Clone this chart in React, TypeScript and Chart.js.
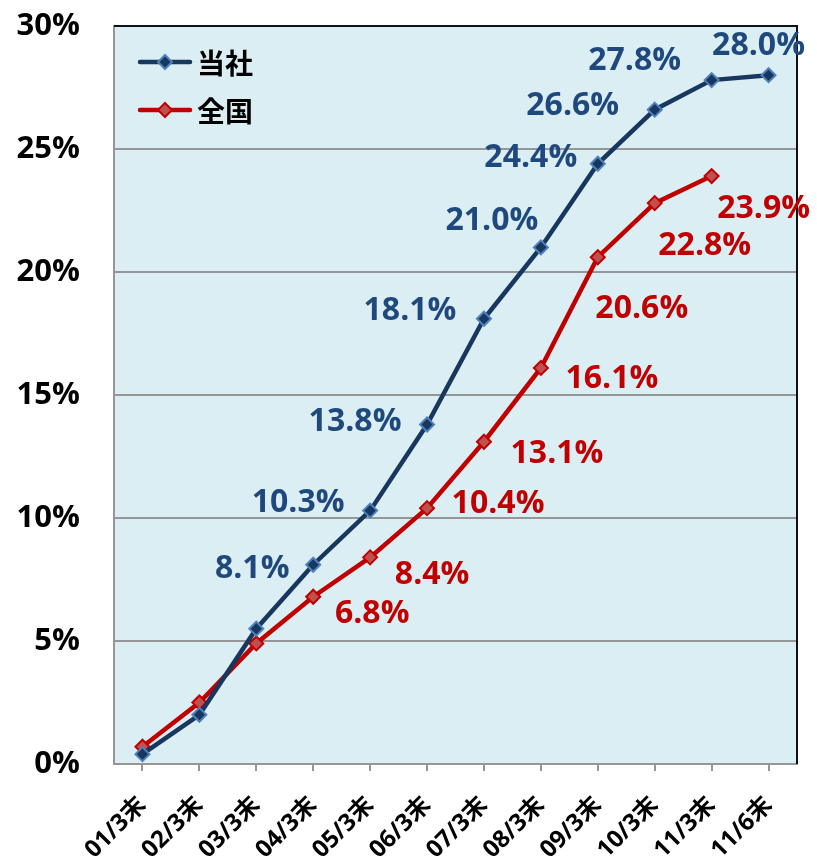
import { useEffect, useRef } from 'react';
import { Chart, registerables } from 'chart.js';

Chart.register(...registerables);

const categories = ['01/3末', '02/3末', '03/3末', '04/3末', '05/3末', '06/3末', '07/3末', '08/3末', '09/3末', '10/3末', '11/3末', '11/6末'];
const companyValues = [0.4, 2.0, 5.5, 8.1, 10.3, 13.8, 18.1, 21.0, 24.4, 26.6, 27.8, 28.0];
const nationalValues: (number | null)[] = [0.7, 2.5, 4.9, 6.8, 8.4, 10.4, 13.1, 16.1, 20.6, 22.8, 23.9, null];
const seriesNames = ['当社', '全国'];
const yTickValues = [0, 5, 10, 15, 20, 25, 30];
const firstLabelIndex = 3;

// label offsets (pixels, text centre relative to point)
const companyLabelOffsets = [[0, 0], [0, 0], [0, 0], [-61, 3], [-72, -9], [-72, -4], [-74, -9], [-49, -28], [-67, -7], [-82, -5], [-77, -20], [-10, -30]];
const nationalLabelOffsets = [[0, 0], [0, 0], [0, 0], [59, 16], [62, 17], [71, -5], [73, 11], [71, 10], [44, 51], [50, 42], [52, 32], [0, 0]];

const COMPANY_LINE = '#17375E';
const COMPANY_MARK_BORDER = '#4F81BD';
const COMPANY_TEXT = '#1F497D';
const NATIONAL_LINE = '#C00000';
const NATIONAL_MARK_FILL = '#C0504D';
const NATIONAL_TEXT = '#C00000';
const PLOT_BG = '#DBEEF4';
const GRID = '#969696';
const NUM_FONT = '"Open Sans", "Liberation Sans", sans-serif';
const CJK_FONT = '"Noto Sans CJK JP", "Noto Sans", sans-serif';

const fmt = (v: number) => v.toFixed(1) + '%';

const plotPlugin = {
  id: 'plotDecor',
  beforeDraw(chart: any) {
    const { ctx, chartArea: a } = chart;
    ctx.save();
    ctx.fillStyle = '#ffffff';
    ctx.fillRect(0, 0, chart.width, chart.height);
    ctx.fillStyle = PLOT_BG;
    ctx.fillRect(a.left, a.top, a.right - a.left, a.bottom - a.top);
    ctx.restore();
  },
  beforeDatasetsDraw(chart: any) {
    const { ctx, chartArea: a } = chart;
    ctx.save();
    ctx.strokeStyle = '#111111';
    ctx.lineWidth = 2;
    ctx.beginPath();
    ctx.moveTo(a.left, a.top);
    ctx.lineTo(a.right, a.top);
    ctx.lineTo(a.right, a.bottom);
    ctx.stroke();
    ctx.restore();
  },
  afterDatasetsDraw(chart: any) {
    const { ctx, chartArea: a } = chart;
    ctx.save();
    // data labels
    ctx.font = `bold 32px ${NUM_FONT}`;
    ctx.textAlign = 'center';
    ctx.textBaseline = 'middle';
    const sets = [
      { idx: 0, values: companyValues, offs: companyLabelOffsets, color: COMPANY_TEXT },
      { idx: 1, values: nationalValues, offs: nationalLabelOffsets, color: NATIONAL_TEXT },
    ];
    sets.forEach((s) => {
      const meta = chart.getDatasetMeta(s.idx);
      ctx.fillStyle = s.color;
      s.values.forEach((v, i) => {
        if (v === null || i < firstLabelIndex) return;
        const p = meta.data[i];
        ctx.fillText(fmt(v as number), p.x + s.offs[i][0], p.y + s.offs[i][1] + 1);
      });
    });
    // legend
    const legendItems = [
      { name: seriesNames[0], line: COMPANY_LINE, fill: COMPANY_LINE, border: COMPANY_MARK_BORDER, y: a.top + 36 },
      { name: seriesNames[1], line: NATIONAL_LINE, fill: NATIONAL_MARK_FILL, border: NATIONAL_LINE, y: a.top + 84 },
    ];
    legendItems.forEach((it) => {
      const x0 = a.left + 26;
      ctx.strokeStyle = it.line;
      ctx.lineWidth = 4.5;
      ctx.lineCap = 'round';
      ctx.beginPath();
      ctx.moveTo(x0, it.y);
      ctx.lineTo(x0 + 50, it.y);
      ctx.stroke();
      const cx = x0 + 25;
      const r = 7;
      ctx.beginPath();
      ctx.moveTo(cx, it.y - r);
      ctx.lineTo(cx + r, it.y);
      ctx.lineTo(cx, it.y + r);
      ctx.lineTo(cx - r, it.y);
      ctx.closePath();
      ctx.fillStyle = it.fill;
      ctx.fill();
      ctx.lineWidth = 2;
      ctx.strokeStyle = it.border;
      ctx.stroke();
      ctx.fillStyle = '#000000';
      ctx.font = `bold 28px ${CJK_FONT}`;
      ctx.textAlign = 'left';
      ctx.textBaseline = 'middle';
      ctx.fillText(it.name, x0 + 57, it.y + 1);
    });
    ctx.restore();
  },
};

export default function App() {
  const ref = useRef<HTMLCanvasElement | null>(null);
  useEffect(() => {
    document.body.style.margin = '0';
    if (!ref.current) return;
    const chart = new Chart(ref.current, {
      type: 'line',
      data: {
        labels: categories,
        datasets: [
          {
            label: seriesNames[0],
            data: companyValues,
            borderColor: COMPANY_LINE,
            borderWidth: 4.5,
            backgroundColor: COMPANY_LINE,
            pointStyle: 'rectRot',
            pointRadius: 7,
            pointBackgroundColor: COMPANY_LINE,
            pointBorderColor: COMPANY_MARK_BORDER,
            pointBorderWidth: 2,
            tension: 0,
          },
          {
            label: seriesNames[1],
            data: nationalValues,
            borderColor: NATIONAL_LINE,
            borderWidth: 4.5,
            backgroundColor: NATIONAL_MARK_FILL,
            pointStyle: 'rectRot',
            pointRadius: 7,
            pointBackgroundColor: NATIONAL_MARK_FILL,
            pointBorderColor: NATIONAL_LINE,
            pointBorderWidth: 2,
            tension: 0,
          },
        ],
      },
      options: {
        animation: false,
        responsive: false,
        devicePixelRatio: 1,
        layout: { padding: { top: 26, right: 20, left: 0, bottom: 0 } },
        plugins: { legend: { display: false }, tooltip: { enabled: false } },
        scales: {
          x: {
            offset: true,
            grid: { offset: false, drawOnChartArea: false, color: GRID, lineWidth: 2, tickLength: 7 },
            border: { color: GRID, width: 2 },
            ticks: {
              minRotation: 45,
              maxRotation: 45,
              autoSkip: false,
              color: '#000000',
              padding: 20,
              font: { family: `"Open Sans", "Noto Sans CJK JP", sans-serif`, weight: 'bold', size: 24 },
            },
            afterFit: (s: any) => { s.height = 97; s.paddingLeft = 0; s.paddingRight = 0; },
          },
          y: {
            min: 0,
            max: 30,
            afterBuildTicks: (s: any) => { s.ticks = yTickValues.map((v) => ({ value: v })); },
            grid: { color: GRID, lineWidth: 2, drawTicks: false },
            border: { color: GRID, width: 2 },
            ticks: {
              color: '#000000',
              padding: 34,
              font: { family: NUM_FONT, weight: 'bold', size: 31 },
              callback: (v: any) => v + '%',
            },
            afterFit: (s: any) => { s.width = 114; s.paddingTop = 0; s.paddingBottom = 0; },
          },
        },
      },
      plugins: [plotPlugin],
    });
    return () => chart.destroy();
  }, []);
  return (
    <div style={{ width: 817, height: 861 }}>
      <canvas ref={ref} width={817} height={861} style={{ display: 'block' }} />
    </div>
  );
}
